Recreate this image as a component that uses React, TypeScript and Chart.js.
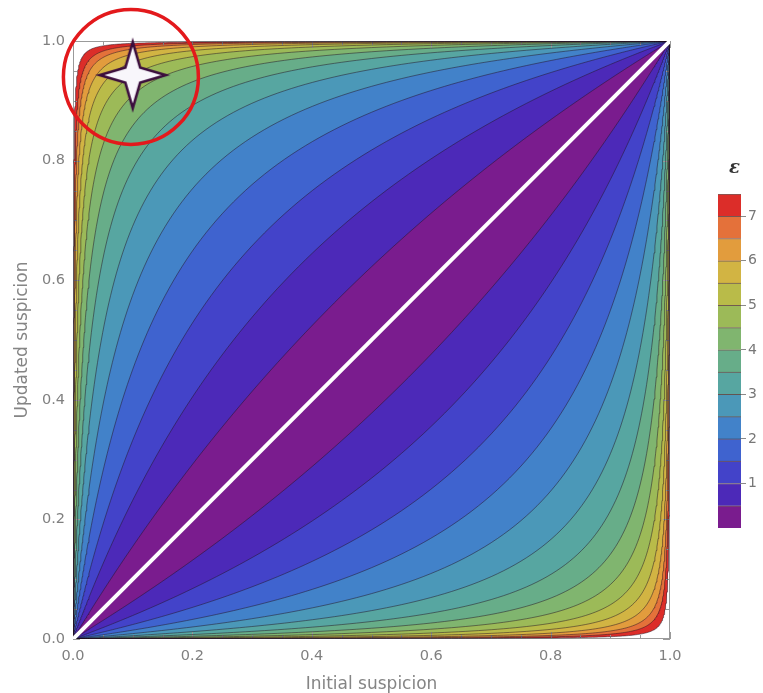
import React, { useEffect, useRef } from "react";
import { Chart, registerables } from "chart.js";

Chart.register(...registerables);

// ---------------- data ----------------
const X_TICK_VALUES = [0, 0.2, 0.4, 0.6, 0.8, 1.0];
const Y_TICK_VALUES = [0, 0.2, 0.4, 0.6, 0.8, 1.0];
const X_TITLE = "Initial suspicion";
const Y_TITLE = "Updated suspicion";
const EPSILON_LABEL = "ε";

// upper ε bound of each filled contour band (ε = |logit(updated) − logit(initial)|);
// the last, open band (≥ 7) is drawn out to where the sampled surface ends
const BAND_UPPER_EPS = [0.5, 1, 1.5, 2, 2.5, 3, 3.5, 4, 4.5, 5, 5.5, 6, 6.5, 7, 7.75];
const BAND_COLORS = [
  "#7a1c8e",
  "#4c29b8",
  "#4343c9",
  "#3f63cf",
  "#4282c9",
  "#4b98b8",
  "#57a6a1",
  "#67ad89",
  "#80b56f",
  "#9cba58",
  "#b9bb49",
  "#d2b443",
  "#e29c3d",
  "#e4713a",
  "#dc2d29",
];
const COLORBAR_EDGES = [0, 0.5, 1, 1.5, 2, 2.5, 3, 3.5, 4, 4.5, 5, 5.5, 6, 6.5, 7, 7.5];
const COLORBAR_TICKS = [1, 2, 3, 4, 5, 6, 7];
const DIAGONAL_POINTS = [
  { x: 0, y: 0 },
  { x: 1, y: 1 },
];
const STAR_POINT = [{ x: 0.1, y: 0.943 }];
const CIRCLE_POINT = [{ x: 0.097, y: 0.94 }];

// ---------------- helpers ----------------
const FONT = "DejaVu Sans";
const sigmoid = (t: number) => 1 / (1 + Math.exp(-t));

// level curve logit(y) = logit(x) + side*eps, sampled evenly in log-odds
function levelCurve(eps: number, side: number) {
  const pts: { x: number; y: number }[] = [{ x: 0, y: 0 }];
  const N = 640;
  for (let i = 0; i <= N; i++) {
    const t = -16 + (32 * i) / N;
    pts.push({ x: sigmoid(t), y: sigmoid(t + side * eps) });
  }
  pts.push({ x: 1, y: 1 });
  return pts;
}

function makeStar(): HTMLCanvasElement {
  const c = document.createElement("canvas");
  c.width = 76;
  c.height = 76;
  const ctx = c.getContext("2d")!;
  const cx = 38,
    cy = 38,
    R = 33,
    r = 10.5;
  ctx.beginPath();
  for (let k = 0; k < 8; k++) {
    const a = -Math.PI / 2 + (k * Math.PI) / 4;
    const rad = k % 2 === 0 ? R : r;
    const px = cx + rad * Math.cos(a);
    const py = cy + rad * Math.sin(a);
    if (k === 0) ctx.moveTo(px, py);
    else ctx.lineTo(px, py);
  }
  ctx.closePath();
  ctx.fillStyle = "#f8f6fb";
  ctx.fill();
  ctx.lineWidth = 2.6;
  ctx.lineJoin = "miter";
  ctx.strokeStyle = "#3b0d3d";
  ctx.stroke();
  return c;
}

const framePlugin = {
  id: "frameTicks",
  beforeDatasetsDraw(chart: any) {
    const { ctx, chartArea: a, scales } = chart;
    const xs = scales.x,
      ys = scales.y;
    ctx.save();
    ctx.strokeStyle = "#9a9a9a";
    ctx.lineWidth = 1;
    ctx.strokeRect(a.left + 0.5, a.top + 0.5, a.right - a.left - 1, a.bottom - a.top - 1);
    for (let i = 0; i <= 20; i++) {
      const v = i * 0.05;
      const major = i % 4 === 0;
      const len = major ? 7 : 4;
      const px = Math.round(xs.getPixelForValue(v)) + 0.5;
      const py = Math.round(ys.getPixelForValue(v)) + 0.5;
      ctx.beginPath();
      ctx.moveTo(px, a.bottom);
      ctx.lineTo(px, a.bottom - len);
      ctx.moveTo(px, a.top);
      ctx.lineTo(px, a.top + len);
      ctx.moveTo(a.left, py);
      ctx.lineTo(a.left + len, py);
      ctx.moveTo(a.right, py);
      ctx.lineTo(a.right - len, py);
      ctx.stroke();
    }
    ctx.restore();
  },
};

const epsilonPlugin = {
  id: "epsLabel",
  afterDraw(chart: any) {
    const { ctx, chartArea: a } = chart;
    ctx.save();
    ctx.font = 'italic bold 18px "DejaVu Serif"';
    ctx.fillStyle = "#333";
    ctx.textAlign = "center";
    ctx.textBaseline = "middle";
    ctx.fillText(EPSILON_LABEL, (a.left + a.right) / 2 + 5, a.top - 26);
    ctx.restore();
  },
};

export default function App() {
  const mainRef = useRef<HTMLCanvasElement>(null);
  const barRef = useRef<HTMLCanvasElement>(null);

  useEffect(() => {
    document.body.style.margin = "0";
    const star = makeStar();

    const bandSets: any[] = [];
    BAND_UPPER_EPS.forEach((eps, i) => {
      bandSets.push({
        data: levelCurve(eps, 1),
        borderColor: "rgba(35,20,35,0.5)",
        borderWidth: 1,
        backgroundColor: BAND_COLORS[i],
        fill: "+1",
        pointRadius: 0,
        tension: 0,
      });
      bandSets.push({
        data: levelCurve(eps, -1),
        borderColor: "rgba(35,20,35,0.5)",
        borderWidth: 1,
        backgroundColor: BAND_COLORS[i],
        fill: false,
        pointRadius: 0,
        tension: 0,
      });
    });

    const main = new Chart(mainRef.current!, {
      type: "line",
      data: {
        datasets: [
          {
            data: CIRCLE_POINT,
            showLine: false,
            pointStyle: "circle",
            pointRadius: 67.5,
            pointBorderWidth: 3.5,
            pointBorderColor: "#e3191c",
            pointBackgroundColor: "rgba(0,0,0,0)",
            clip: false,
            fill: false,
          },
          {
            data: STAR_POINT,
            showLine: false,
            pointStyle: star,
            pointRadius: 10,
            clip: false,
            fill: false,
          },
          {
            data: DIAGONAL_POINTS,
            borderColor: "#ffffff",
            borderWidth: 4,
            pointRadius: 0,
            fill: false,
          },
          ...bandSets,
        ] as any,
      },
      options: {
        animation: false,
        responsive: false,
        events: [],
        layout: { autoPadding: false, padding: { left: 0, right: 93, top: 41, bottom: 0 } },
        plugins: {
          legend: { display: false },
          tooltip: { enabled: false },
          filler: { drawTime: "beforeDatasetsDraw", propagate: false },
        } as any,
        scales: {
          x: {
            type: "linear",
            min: 0,
            max: 1,
            afterBuildTicks: (s: any) => {
              s.ticks = X_TICK_VALUES.map((v) => ({ value: v }));
            },
            afterFit: (s: any) => {
              s.height = 54;
            },
            grid: { display: false, drawTicks: false },
            border: { display: false },
            ticks: {
              padding: 9,
              color: "#808080",
              font: { family: FONT, size: 14.5 },
              maxRotation: 0,
              autoSkip: false,
              callback: (v: any) => Number(v).toFixed(1),
            },
            title: {
              display: true,
              text: X_TITLE,
              color: "#858585",
              font: { family: FONT, size: 17, lineHeight: 1 },
              padding: { top: 0, bottom: 0 },
            },
          },
          y: {
            type: "linear",
            min: 0,
            max: 1,
            afterBuildTicks: (s: any) => {
              s.ticks = Y_TICK_VALUES.map((v) => ({ value: v }));
            },
            afterFit: (s: any) => {
              s.width = 73;
            },
            grid: { display: false, drawTicks: false },
            border: { display: false },
            ticks: {
              padding: 8,
              color: "#808080",
              font: { family: FONT, size: 14.5 },
              autoSkip: false,
              callback: (v: any) => Number(v).toFixed(1),
            },
            title: {
              display: true,
              text: Y_TITLE,
              color: "#858585",
              font: { family: FONT, size: 17, lineHeight: 1 },
              padding: { top: 14, bottom: 0 },
            },
          },
        },
      } as any,
      plugins: [framePlugin],
    });

    const bar = new Chart(barRef.current!, {
      type: "bar",
      data: {
        labels: [""],
        datasets: BAND_COLORS.map((c, i) => ({
          data: [[COLORBAR_EDGES[i], COLORBAR_EDGES[i + 1]]],
          backgroundColor: c,
          borderColor: "rgba(60,25,20,0.7)",
          borderWidth: { top: 1, bottom: 0, left: 0, right: 0 },
          borderSkipped: false,
          grouped: false,
          barPercentage: 1,
          categoryPercentage: 1,
        })) as any,
      },
      options: {
        animation: false,
        responsive: false,
        events: [],
        layout: { autoPadding: false, padding: { left: 18, right: 0, top: 44, bottom: 22 } },
        plugins: { legend: { display: false }, tooltip: { enabled: false } },
        scales: {
          x: { display: false },
          y: {
            position: "right",
            min: 0,
            max: 7.5,
            afterBuildTicks: (s: any) => {
              s.ticks = COLORBAR_TICKS.map((v) => ({ value: v }));
            },
            afterFit: (s: any) => {
              s.width = 22;
            },
            grid: { drawOnChartArea: false, drawTicks: true, tickLength: 5, color: "#8a8a8a" },
            border: { display: false },
            ticks: {
              padding: 2,
              color: "#777",
              font: { family: FONT, size: 14 },
              autoSkip: false,
            },
          },
        },
      } as any,
      plugins: [epsilonPlugin],
    });

    return () => {
      main.destroy();
      bar.destroy();
    };
  }, []);

  return (
    <div style={{ position: "relative", width: 763, height: 693, background: "#fff" }}>
      <canvas
        ref={mainRef}
        width={763}
        height={693}
        style={{ position: "absolute", left: 0, top: 0 }}
      />
      <canvas
        ref={barRef}
        width={63}
        height={400}
        style={{ position: "absolute", left: 700, top: 150 }}
      />
    </div>
  );
}
